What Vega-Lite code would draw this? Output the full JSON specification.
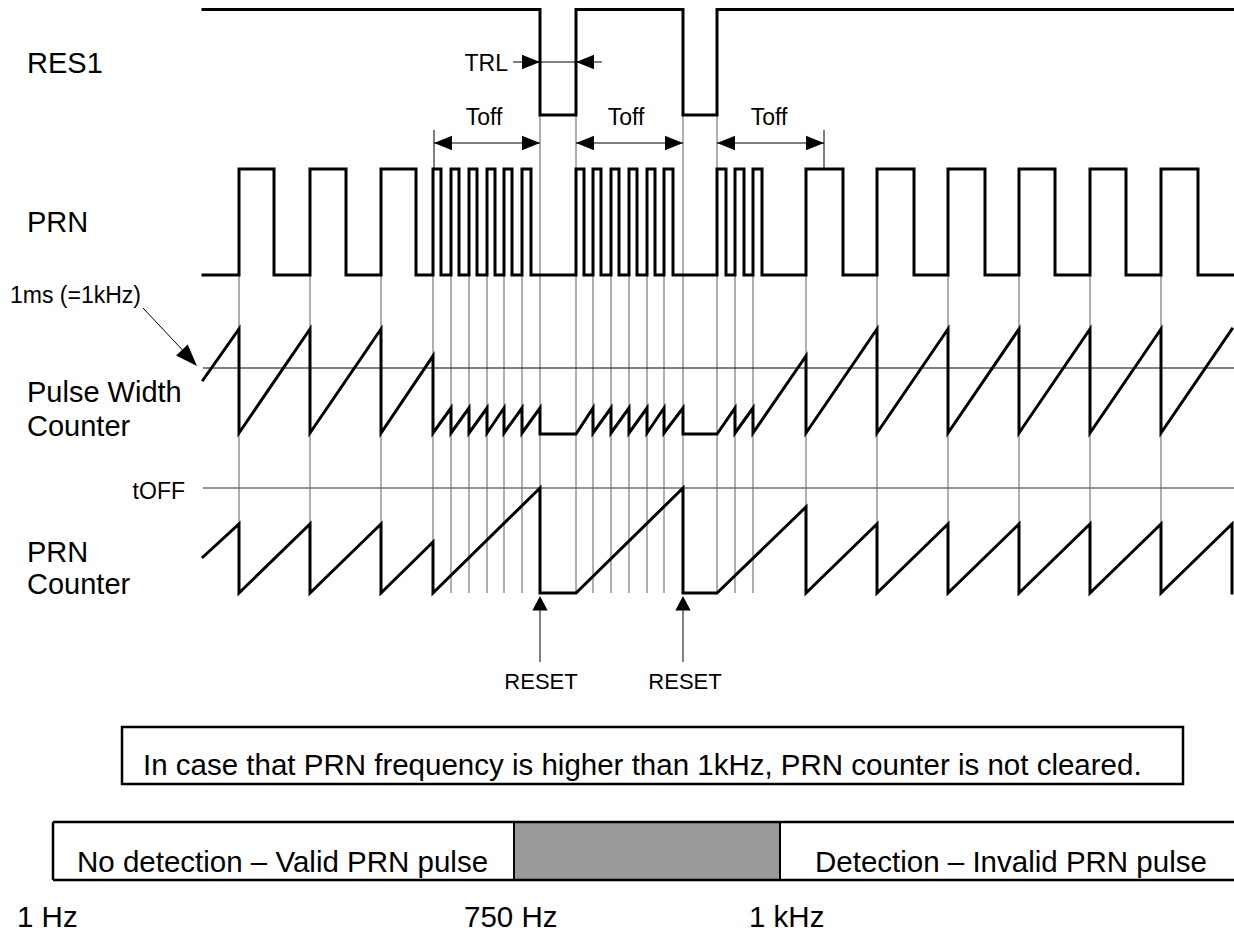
{
  "$schema": "https://vega.github.io/schema/vega-lite/v6.json",
  "width": 1234,
  "height": 933,
  "padding": 0,
  "autosize": {"type": "none"},
  "background": "white",
  "config": {"view": {"stroke": null}, "font": "Liberation Sans", "text": {"font": "Liberation Sans"}},
  "datasets": {
    "waves": [
      {"s":"RES1","i":0,"x":203,"y":9.5},{"s":"RES1","i":1,"x":540,"y":9.5},{"s":"RES1","i":2,"x":540,"y":115},{"s":"RES1","i":3,"x":576,"y":115},{"s":"RES1","i":4,"x":576,"y":9.5},{"s":"RES1","i":5,"x":683,"y":9.5},{"s":"RES1","i":6,"x":683,"y":115},{"s":"RES1","i":7,"x":717,"y":115},{"s":"RES1","i":8,"x":717,"y":9.5},{"s":"RES1","i":9,"x":1234,"y":9.5},

      {"s":"PRN","i":0,"x":203,"y":275},
      {"s":"PRN","i":1,"x":239,"y":275},{"s":"PRN","i":2,"x":239,"y":169},{"s":"PRN","i":3,"x":274,"y":169},{"s":"PRN","i":4,"x":274,"y":275},
      {"s":"PRN","i":5,"x":310,"y":275},{"s":"PRN","i":6,"x":310,"y":169},{"s":"PRN","i":7,"x":346,"y":169},{"s":"PRN","i":8,"x":346,"y":275},
      {"s":"PRN","i":9,"x":381,"y":275},{"s":"PRN","i":10,"x":381,"y":169},{"s":"PRN","i":11,"x":416,"y":169},{"s":"PRN","i":12,"x":416,"y":275},
      {"s":"PRN","i":13,"x":433,"y":275},{"s":"PRN","i":14,"x":433,"y":169},{"s":"PRN","i":15,"x":441,"y":169},{"s":"PRN","i":16,"x":441,"y":275},
      {"s":"PRN","i":17,"x":451,"y":275},{"s":"PRN","i":18,"x":451,"y":169},{"s":"PRN","i":19,"x":459,"y":169},{"s":"PRN","i":20,"x":459,"y":275},
      {"s":"PRN","i":21,"x":469,"y":275},{"s":"PRN","i":22,"x":469,"y":169},{"s":"PRN","i":23,"x":477,"y":169},{"s":"PRN","i":24,"x":477,"y":275},
      {"s":"PRN","i":25,"x":487,"y":275},{"s":"PRN","i":26,"x":487,"y":169},{"s":"PRN","i":27,"x":495,"y":169},{"s":"PRN","i":28,"x":495,"y":275},
      {"s":"PRN","i":29,"x":504,"y":275},{"s":"PRN","i":30,"x":504,"y":169},{"s":"PRN","i":31,"x":512,"y":169},{"s":"PRN","i":32,"x":512,"y":275},
      {"s":"PRN","i":33,"x":522,"y":275},{"s":"PRN","i":34,"x":522,"y":169},{"s":"PRN","i":35,"x":531,"y":169},{"s":"PRN","i":36,"x":531,"y":275},
      {"s":"PRN","i":37,"x":576,"y":275},{"s":"PRN","i":38,"x":576,"y":169},{"s":"PRN","i":39,"x":584,"y":169},{"s":"PRN","i":40,"x":584,"y":275},
      {"s":"PRN","i":41,"x":593,"y":275},{"s":"PRN","i":42,"x":593,"y":169},{"s":"PRN","i":43,"x":601,"y":169},{"s":"PRN","i":44,"x":601,"y":275},
      {"s":"PRN","i":45,"x":611,"y":275},{"s":"PRN","i":46,"x":611,"y":169},{"s":"PRN","i":47,"x":619,"y":169},{"s":"PRN","i":48,"x":619,"y":275},
      {"s":"PRN","i":49,"x":629,"y":275},{"s":"PRN","i":50,"x":629,"y":169},{"s":"PRN","i":51,"x":637,"y":169},{"s":"PRN","i":52,"x":637,"y":275},
      {"s":"PRN","i":53,"x":647,"y":275},{"s":"PRN","i":54,"x":647,"y":169},{"s":"PRN","i":55,"x":655,"y":169},{"s":"PRN","i":56,"x":655,"y":275},
      {"s":"PRN","i":57,"x":664,"y":275},{"s":"PRN","i":58,"x":664,"y":169},{"s":"PRN","i":59,"x":673,"y":169},{"s":"PRN","i":60,"x":673,"y":275},
      {"s":"PRN","i":61,"x":717,"y":275},{"s":"PRN","i":62,"x":717,"y":169},{"s":"PRN","i":63,"x":726,"y":169},{"s":"PRN","i":64,"x":726,"y":275},
      {"s":"PRN","i":65,"x":735,"y":275},{"s":"PRN","i":66,"x":735,"y":169},{"s":"PRN","i":67,"x":744,"y":169},{"s":"PRN","i":68,"x":744,"y":275},
      {"s":"PRN","i":69,"x":753,"y":275},{"s":"PRN","i":70,"x":753,"y":169},{"s":"PRN","i":71,"x":762,"y":169},{"s":"PRN","i":72,"x":762,"y":275},
      {"s":"PRN","i":73,"x":806,"y":275},{"s":"PRN","i":74,"x":806,"y":169},{"s":"PRN","i":75,"x":843,"y":169},{"s":"PRN","i":76,"x":843,"y":275},
      {"s":"PRN","i":77,"x":877,"y":275},{"s":"PRN","i":78,"x":877,"y":169},{"s":"PRN","i":79,"x":914,"y":169},{"s":"PRN","i":80,"x":914,"y":275},
      {"s":"PRN","i":81,"x":948,"y":275},{"s":"PRN","i":82,"x":948,"y":169},{"s":"PRN","i":83,"x":985,"y":169},{"s":"PRN","i":84,"x":985,"y":275},
      {"s":"PRN","i":85,"x":1019,"y":275},{"s":"PRN","i":86,"x":1019,"y":169},{"s":"PRN","i":87,"x":1055,"y":169},{"s":"PRN","i":88,"x":1055,"y":275},
      {"s":"PRN","i":89,"x":1090,"y":275},{"s":"PRN","i":90,"x":1090,"y":169},{"s":"PRN","i":91,"x":1126,"y":169},{"s":"PRN","i":92,"x":1126,"y":275},
      {"s":"PRN","i":93,"x":1161,"y":275},{"s":"PRN","i":94,"x":1161,"y":169},{"s":"PRN","i":95,"x":1198,"y":169},{"s":"PRN","i":96,"x":1198,"y":275},
      {"s":"PRN","i":97,"x":1234,"y":275},

      {"s":"PWC","i":0,"x":203,"y":380},{"s":"PWC","i":1,"x":239,"y":329},{"s":"PWC","i":2,"x":239,"y":433},{"s":"PWC","i":3,"x":310,"y":329},{"s":"PWC","i":4,"x":310,"y":433},{"s":"PWC","i":5,"x":381,"y":329},{"s":"PWC","i":6,"x":381,"y":433},{"s":"PWC","i":7,"x":433,"y":356},{"s":"PWC","i":8,"x":433,"y":433},
      {"s":"PWC","i":9,"x":451,"y":408},{"s":"PWC","i":10,"x":451,"y":433},{"s":"PWC","i":11,"x":469,"y":408},{"s":"PWC","i":12,"x":469,"y":433},{"s":"PWC","i":13,"x":487,"y":408},{"s":"PWC","i":14,"x":487,"y":433},{"s":"PWC","i":15,"x":504,"y":408},{"s":"PWC","i":16,"x":504,"y":433},{"s":"PWC","i":17,"x":522,"y":408},{"s":"PWC","i":18,"x":522,"y":433},{"s":"PWC","i":19,"x":540,"y":408},{"s":"PWC","i":20,"x":540,"y":434},{"s":"PWC","i":21,"x":576,"y":434},
      {"s":"PWC","i":22,"x":593,"y":408},{"s":"PWC","i":23,"x":593,"y":433},{"s":"PWC","i":24,"x":611,"y":408},{"s":"PWC","i":25,"x":611,"y":433},{"s":"PWC","i":26,"x":629,"y":408},{"s":"PWC","i":27,"x":629,"y":433},{"s":"PWC","i":28,"x":647,"y":408},{"s":"PWC","i":29,"x":647,"y":433},{"s":"PWC","i":30,"x":664,"y":408},{"s":"PWC","i":31,"x":664,"y":433},{"s":"PWC","i":32,"x":683,"y":408},{"s":"PWC","i":33,"x":683,"y":434},{"s":"PWC","i":34,"x":717,"y":434},
      {"s":"PWC","i":35,"x":735,"y":408},{"s":"PWC","i":36,"x":735,"y":433},{"s":"PWC","i":37,"x":753,"y":408},{"s":"PWC","i":38,"x":753,"y":433},{"s":"PWC","i":39,"x":806,"y":356},{"s":"PWC","i":40,"x":806,"y":433},
      {"s":"PWC","i":41,"x":877,"y":329},{"s":"PWC","i":42,"x":877,"y":433},{"s":"PWC","i":43,"x":948,"y":329},{"s":"PWC","i":44,"x":948,"y":433},{"s":"PWC","i":45,"x":1019,"y":329},{"s":"PWC","i":46,"x":1019,"y":433},{"s":"PWC","i":47,"x":1090,"y":329},{"s":"PWC","i":48,"x":1090,"y":433},{"s":"PWC","i":49,"x":1161,"y":329},{"s":"PWC","i":50,"x":1161,"y":433},{"s":"PWC","i":51,"x":1232,"y":329},

      {"s":"PRNC","i":0,"x":203,"y":557},{"s":"PRNC","i":1,"x":239,"y":524},{"s":"PRNC","i":2,"x":239,"y":593},{"s":"PRNC","i":3,"x":310,"y":524},{"s":"PRNC","i":4,"x":310,"y":593},{"s":"PRNC","i":5,"x":381,"y":524},{"s":"PRNC","i":6,"x":381,"y":593},{"s":"PRNC","i":7,"x":433,"y":542},{"s":"PRNC","i":8,"x":433,"y":593},
      {"s":"PRNC","i":9,"x":540,"y":488},{"s":"PRNC","i":10,"x":540,"y":593},{"s":"PRNC","i":11,"x":576,"y":593},{"s":"PRNC","i":12,"x":683,"y":488},{"s":"PRNC","i":13,"x":683,"y":593},{"s":"PRNC","i":14,"x":717,"y":593},{"s":"PRNC","i":15,"x":806,"y":507},{"s":"PRNC","i":16,"x":806,"y":593},
      {"s":"PRNC","i":17,"x":877,"y":524},{"s":"PRNC","i":18,"x":877,"y":593},{"s":"PRNC","i":19,"x":948,"y":524},{"s":"PRNC","i":20,"x":948,"y":593},{"s":"PRNC","i":21,"x":1019,"y":524},{"s":"PRNC","i":22,"x":1019,"y":593},{"s":"PRNC","i":23,"x":1090,"y":524},{"s":"PRNC","i":24,"x":1090,"y":593},{"s":"PRNC","i":25,"x":1161,"y":524},{"s":"PRNC","i":26,"x":1161,"y":593},{"s":"PRNC","i":27,"x":1232,"y":524},{"s":"PRNC","i":28,"x":1232,"y":593}
    ],
    "guides": [
      {"x":239,"y":275,"y2":593},{"x":310,"y":275,"y2":593},{"x":381,"y":275,"y2":593},{"x":433,"y":275,"y2":593},{"x":451,"y":275,"y2":593},{"x":469,"y":275,"y2":593},{"x":487,"y":275,"y2":593},{"x":504,"y":275,"y2":593},{"x":522,"y":275,"y2":593},
      {"x":540,"y":115,"y2":593},{"x":576,"y":115,"y2":593},
      {"x":593,"y":275,"y2":593},{"x":611,"y":275,"y2":593},{"x":629,"y":275,"y2":593},{"x":647,"y":275,"y2":593},{"x":664,"y":275,"y2":593},
      {"x":683,"y":115,"y2":593},{"x":717,"y":115,"y2":593},
      {"x":735,"y":275,"y2":593},{"x":753,"y":275,"y2":593},{"x":806,"y":275,"y2":593},{"x":877,"y":275,"y2":593},{"x":948,"y":275,"y2":593},{"x":1019,"y":275,"y2":593},{"x":1090,"y":275,"y2":593},{"x":1161,"y":275,"y2":593}
    ],
    "thin": [
      {"x":513,"y":62,"x2":602,"y2":62},
      {"x":434,"y":143,"x2":540,"y2":143},{"x":576,"y":143,"x2":683,"y2":143},{"x":717,"y":143,"x2":824,"y2":143},
      {"x":434,"y":130,"x2":434,"y2":169},{"x":824,"y":130,"x2":824,"y2":169},
      {"x":540,"y":605,"x2":540,"y2":662},{"x":683,"y":605,"x2":683,"y2":662},
      {"x":143,"y":308,"x2":190,"y2":358},
      {"x":203,"y":368,"x2":1234,"y2":368}
    ],
    "toff": [{"x":203,"y":488,"x2":1234,"y2":488}],
    "bar": [
      {"x":53,"y":822,"x2":1234,"y2":822},{"x":53,"y":880,"x2":1234,"y2":880},{"x":53,"y":822,"x2":53,"y2":880}
    ],
    "boxes": [{"k":"note","x":122,"y":727,"x2":1183,"y2":784}],
    "grayband": [{"x":514,"y":822,"x2":780,"y2":880}],
    "heads": [
      {"d":"right","x":540,"y":62},{"d":"left","x":576,"y":62},
      {"d":"left","x":434,"y":143},{"d":"right","x":540,"y":143},
      {"d":"left","x":576,"y":143},{"d":"right","x":683,"y":143},
      {"d":"left","x":717,"y":143},{"d":"right","x":824,"y":143},
      {"d":"up","x":540,"y":596},{"d":"up","x":683,"y":596},
      {"d":"diag","x":197,"y":366}
    ],
    "labels": [
      {"g":"big","t":"RES1","x":27,"y":73},
      {"g":"big","t":"PRN","x":27,"y":232},
      {"g":"big","t":"Pulse Width","x":27,"y":402},
      {"g":"big","t":"Counter","x":27,"y":436},
      {"g":"big","t":"PRN","x":27,"y":562},
      {"g":"big","t":"Counter","x":27,"y":594},
      {"g":"smallL","t":"1ms (=1kHz)","x":10,"y":303},
      {"g":"smallR","t":"tOFF","x":185,"y":499},
      {"g":"smallR","t":"TRL","x":508,"y":71},
      {"g":"smallC","t":"Toff","x":484,"y":125},
      {"g":"smallC","t":"Toff","x":626,"y":125},
      {"g":"smallC","t":"Toff","x":769,"y":125},
      {"g":"reset","t":"RESET","x":541,"y":689},
      {"g":"reset","t":"RESET","x":685,"y":689},
      {"g":"body","t":"In case that PRN frequency is higher than 1kHz, PRN counter is not cleared.","x":143,"y":775},
      {"g":"body","t":"No detection – Valid PRN pulse","x":77,"y":872},
      {"g":"body","t":"Detection – Invalid PRN pulse","x":815,"y":872},
      {"g":"body","t":"1 Hz","x":17,"y":927},
      {"g":"body","t":"750 Hz","x":464,"y":927},
      {"g":"body","t":"1 kHz","x":749,"y":927}
    ]
  },
  "encoding": {
    "x": {"field": "x", "type": "quantitative", "scale": {"domain": [0, 1234], "nice": false, "zero": false}, "axis": null},
    "y": {"field": "y", "type": "quantitative", "scale": {"domain": [0, 933], "nice": false, "zero": false, "reverse": true}, "axis": null}
  },
  "layer": [
    {
      "data": {"name": "grayband"},
      "mark": {"type": "rect", "fill": "#999999", "stroke": "black", "strokeWidth": 2},
      "encoding": {"x2": {"field": "x2"}, "y2": {"field": "y2"}}
    },
    {
      "data": {"name": "bar"},
      "mark": {"type": "rule", "color": "black", "strokeWidth": 2.5},
      "encoding": {"x2": {"field": "x2"}, "y2": {"field": "y2"}}
    },
    {
      "data": {"name": "boxes"},
      "mark": {"type": "rect", "fill": null, "fillOpacity": 0, "stroke": "black", "strokeWidth": 2.5},
      "encoding": {"x2": {"field": "x2"}, "y2": {"field": "y2"}}
    },
    {
      "data": {"name": "guides"},
      "mark": {"type": "rule", "color": "#5e5e5e", "strokeWidth": 1},
      "encoding": {"y2": {"field": "y2"}}
    },
    {
      "data": {"name": "toff"},
      "mark": {"type": "rule", "color": "#707070", "strokeWidth": 1.5},
      "encoding": {"x2": {"field": "x2"}, "y2": {"field": "y2"}}
    },
    {
      "data": {"name": "thin"},
      "mark": {"type": "rule", "color": "black", "strokeWidth": 1},
      "encoding": {"x2": {"field": "x2"}, "y2": {"field": "y2"}}
    },
    {
      "data": {"name": "waves"},
      "mark": {"type": "line", "color": "black", "strokeWidth": 3, "strokeJoin": "miter", "strokeCap": "square"},
      "encoding": {"detail": {"field": "s"}, "order": {"field": "i", "type": "quantitative"}}
    },
    {
      "data": {"name": "heads"},
      "mark": {"type": "point", "filled": true, "color": "black", "opacity": 1, "size": 324, "strokeWidth": 0},
      "encoding": {
        "shape": {"field": "d", "type": "nominal", "legend": null,
          "scale": {"domain": ["right", "left", "up", "diag"],
                    "range": ["M0,0L-2,-0.8L-2,0.8Z", "M0,0L2,-0.8L2,0.8Z", "M0,0L-0.85,1.6L0.85,1.6Z", "M0,0L-2.32,-1.17L-1.03,-2.39Z"]}}
      }
    },
    {
      "data": {"name": "labels"},
      "transform": [{"filter": "datum.g == 'big'"}],
      "mark": {"type": "text", "align": "left", "baseline": "alphabetic", "fontSize": 29, "font": "Liberation Sans", "color": "black"},
      "encoding": {"text": {"field": "t"}}
    },
    {
      "data": {"name": "labels"},
      "transform": [{"filter": "datum.g == 'smallL'"}],
      "mark": {"type": "text", "align": "left", "baseline": "alphabetic", "fontSize": 23, "font": "Liberation Sans", "color": "black"},
      "encoding": {"text": {"field": "t"}}
    },
    {
      "data": {"name": "labels"},
      "transform": [{"filter": "datum.g == 'smallR'"}],
      "mark": {"type": "text", "align": "right", "baseline": "alphabetic", "fontSize": 23, "font": "Liberation Sans", "color": "black"},
      "encoding": {"text": {"field": "t"}}
    },
    {
      "data": {"name": "labels"},
      "transform": [{"filter": "datum.g == 'smallC'"}],
      "mark": {"type": "text", "align": "center", "baseline": "alphabetic", "fontSize": 23, "font": "Liberation Sans", "color": "black"},
      "encoding": {"text": {"field": "t"}}
    },
    {
      "data": {"name": "labels"},
      "transform": [{"filter": "datum.g == 'reset'"}],
      "mark": {"type": "text", "align": "center", "baseline": "alphabetic", "fontSize": 22, "font": "Liberation Sans", "color": "black"},
      "encoding": {"text": {"field": "t"}}
    },
    {
      "data": {"name": "labels"},
      "transform": [{"filter": "datum.g == 'body'"}],
      "mark": {"type": "text", "align": "left", "baseline": "alphabetic", "fontSize": 29.5, "font": "Liberation Sans", "color": "black"},
      "encoding": {"text": {"field": "t"}}
    }
  ]
}
